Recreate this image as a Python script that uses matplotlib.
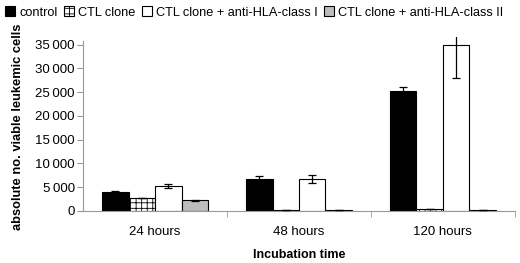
import numpy as np
import matplotlib
matplotlib.use("Agg")
import matplotlib.pyplot as plt

plt.rcParams['font.family'] = ['Liberation Sans', 'DejaVu Sans']
plt.rcParams['hatch.linewidth'] = 0.6

groups = ["24 hours", "48 hours", "120 hours"]
series = ["control", "CTL clone", "CTL clone + anti-HLA-class I", "CTL clone + anti-HLA-class II"]
control = [3900, 6700, 25200]
control_err = [250, 700, 900]
ctl = [2800, 200, 400]
ctl_err = [0, 0, 0]
anti_1 = [5300, 6800, 35000]
anti_1_err = [400, 850, 7000]
anti_2 = [2200, 150, 200]
anti_2_err = [200, 0, 0]

values = [control, ctl, anti_1, anti_2]
errors = [control_err, ctl_err, anti_1_err, anti_2_err]
faces = ["black", "white", "white", "#bdbdbd"]
hatches = [None, "+++", None, None]

fig = plt.figure(figsize=(5.2, 2.63), dpi=100)
ax = fig.add_axes([0.16, 0.198, 0.83, 0.661])

x = np.arange(len(groups))
w = 0.184
for i in range(4):
    pos = x + (i - 1.5) * w
    ax.bar(pos, values[i], w, color=faces[i], edgecolor="black", linewidth=0.8,
           hatch=hatches[i], label=series[i], zorder=2)
    ax.errorbar(pos, values[i], yerr=errors[i], fmt="none", ecolor="black",
                elinewidth=0.9, capsize=3, capthick=0.9, zorder=3)

ax.set_xlim(-0.5, 2.5)
ax.set_ylim(0, 36600)
ax.set_yticks(range(0, 35001, 5000))
ax.set_yticklabels([f"{v:,}".replace(",", "\u2009") if v else "0" for v in range(0, 35001, 5000)])
ax.set_xticks(x)
ax.set_xticklabels(groups)
ax.set_xticks([0.5, 1.5, 2.5], minor=True)
ax.tick_params(axis="x", which="major", length=0, labelsize=9.5, pad=11)
ax.tick_params(axis="x", which="minor", length=4, color="#999999")
ax.tick_params(axis="y", length=4, color="#999999", labelsize=9.5, pad=2)

for s in ["top", "right"]:
    ax.spines[s].set_visible(False)
ax.spines["left"].set_color("#999999")
ax.spines["bottom"].set_color("#999999")
ax.spines["left"].set_bounds(0, 35700)

ax.set_xlabel("Incubation time", fontsize=9, fontweight="bold", labelpad=8)
fig.text(0.035, 1 - 127 / 263, "absolute no. viable leukemic cells", rotation=90,
         fontsize=9.3, fontweight="bold", ha="center", va="center")

fig.legend(loc="upper left", bbox_to_anchor=(0.0, 0.995), ncol=4, frameon=False,
           fontsize=9.2, handlelength=0.8, handleheight=0.8, handletextpad=0.3,
           columnspacing=0.5, borderaxespad=0)

fig.savefig("out.png", dpi=100)
